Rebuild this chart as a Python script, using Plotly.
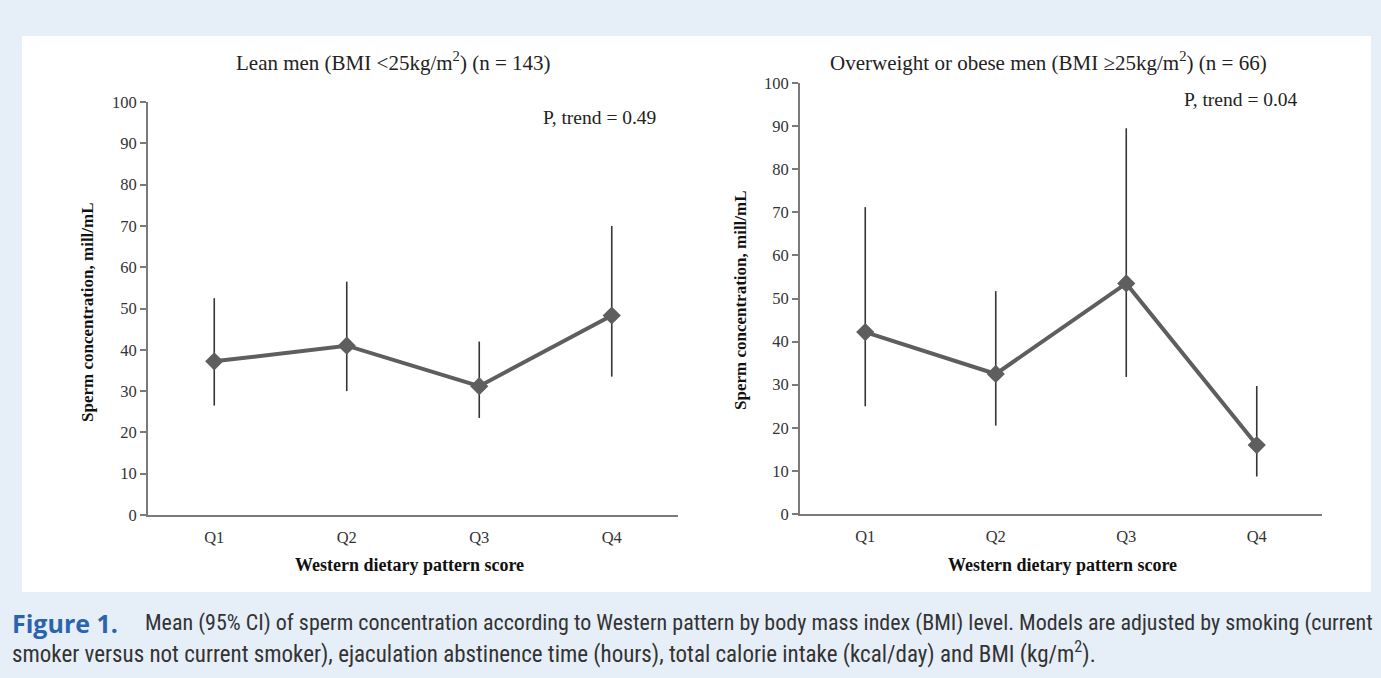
import plotly.graph_objects as go

W, H = 1381, 678

quartiles = ["Q1", "Q2", "Q3", "Q4"]

lean_mean = [37.2, 41.0, 31.2, 48.3]
lean_low = [26.5, 30.0, 23.5, 33.5]
lean_high = [52.5, 56.5, 42.0, 70.0]

over_mean = [42.2, 32.5, 53.5, 16.0]
over_low = [25.0, 20.5, 31.8, 8.7]
over_high = [71.2, 51.7, 89.5, 29.7]

y_ticks = [0, 10, 20, 30, 40, 50, 60, 70, 80, 90, 100]

title_left = "Lean men (BMI <25kg/m<sup>2</sup>) (n = 143)"
title_right = "Overweight or obese men (BMI ≥25kg/m<sup>2</sup>) (n = 66)"
p_left = "P, trend = 0.49"
p_right = "P, trend = 0.04"
x_title = "<b>Western dietary pattern score</b>"
y_title = "<b>Sperm concentration, mill/mL</b>"
caption_head = "<b>Figure 1.</b>"
caption_1 = ("Mean (95% CI) of sperm concentration according to Western pattern by body mass "
             "index (BMI) level. Models are adjusted by smoking (current")
caption_2 = ("smoker versus not current smoker), ejaculation abstinence time (hours), total calorie "
             "intake (kcal/day) and BMI (kg/m<sup>2</sup>).")

SERIF = "Liberation Serif, Times New Roman, serif"
CAP_FONT = "Liberation Sans Narrow, Roboto Condensed, Roboto, sans-serif"
LINE_C = "#5e5e5e"
ERR_C = "#353535"
AXIS_C = "#7a7a7a"
BG = "#e6eef8"

fig = go.Figure()

def add_panel(mean, low, high, xa, ya):
    fig.add_trace(go.Scatter(
        x=quartiles, y=mean, mode="lines+markers",
        line=dict(color=LINE_C, width=4),
        marker=dict(symbol="diamond", size=14, color=LINE_C),
        error_y=dict(type="data", symmetric=False,
                     array=[h - m for h, m in zip(high, mean)],
                     arrayminus=[m - l for m, l in zip(mean, low)],
                     color=ERR_C, thickness=1.6, width=0),
        xaxis=xa, yaxis=ya, showlegend=False, hoverinfo="skip"))

add_panel(lean_mean, lean_low, lean_high, "x", "y")
add_panel(over_mean, over_low, over_high, "x2", "y2")

def fy(py):
    return (H - py) / H

def fx(px):
    return px / W

ax_common = dict(showline=True, linecolor=AXIS_C, linewidth=2, showgrid=False,
                 zeroline=False, automargin=False,
                 tickfont=dict(family=SERIF, size=16.5, color="#333333"))

xcommon = dict(ax_common, ticks="", range=[-0.5, 3.5], type="category",
               ticklabelstandoff=6)
ycommon = dict(ax_common, range=[0, 100], tickvals=y_ticks, ticks="outside",
               ticklen=6, tickcolor=AXIS_C, tickwidth=1.5)

fig.update_layout(
    width=W, height=H,
    margin=dict(l=0, r=0, t=0, b=0),
    paper_bgcolor=BG, plot_bgcolor="rgba(0,0,0,0)",
    xaxis=dict(xcommon, domain=[fx(148), fx(678)], anchor="y"),
    yaxis=dict(ycommon, domain=[fy(515), fy(102)], anchor="x"),
    xaxis2=dict(xcommon, domain=[fx(800), fx(1322)], anchor="y2"),
    yaxis2=dict(ycommon, domain=[fy(514), fy(83)], anchor="x2"),
    shapes=[dict(type="rect", xref="paper", yref="paper",
                 x0=fx(22), x1=fx(1371), y0=fy(592), y1=fy(36),
                 fillcolor="white", line=dict(width=0), layer="below")],
)

TXT = "#222222"
annotations = [
    dict(text=title_left, x=fx(393), y=fy(62), font=dict(family=SERIF, size=21, color=TXT)),
    dict(text=title_right, x=fx(1048), y=fy(62), font=dict(family=SERIF, size=21, color=TXT)),
    dict(text=p_left, x=fx(599), y=fy(117), font=dict(family=SERIF, size=19.5, color=TXT)),
    dict(text=p_right, x=fx(1241), y=fy(99), font=dict(family=SERIF, size=19.5, color=TXT)),
    dict(text=x_title, x=fx(410), y=fy(565), font=dict(family=SERIF, size=18, color="#111111")),
    dict(text=x_title, x=fx(1062), y=fy(565), font=dict(family=SERIF, size=18, color="#111111")),
    dict(text=y_title, x=fx(87), y=fy(312), textangle=-90, font=dict(family=SERIF, size=17, color="#111111")),
    dict(text=y_title, x=fx(740), y=fy(300), textangle=-90, font=dict(family=SERIF, size=17, color="#111111")),
    dict(text=caption_head, x=fx(10), y=fy(623), xanchor="left",
         font=dict(family="Open Sans, Roboto, sans-serif", size=25, color="#2a64ad")),
    dict(text=caption_1, x=fx(143), y=fy(623), xanchor="left",
         font=dict(family=CAP_FONT, size=22, color="#333333")),
    dict(text=caption_2, x=fx(10), y=fy(652), xanchor="left",
         font=dict(family=CAP_FONT, size=23, color="#333333")),
]
for a in annotations:
    a.update(xref="paper", yref="paper", showarrow=False, yanchor="middle")
    a.setdefault("xanchor", "center")
fig.update_layout(annotations=annotations)

fig.write_html("out.html", config={"displayModeBar": False},
               post_script="document.body.style.margin='0';")
